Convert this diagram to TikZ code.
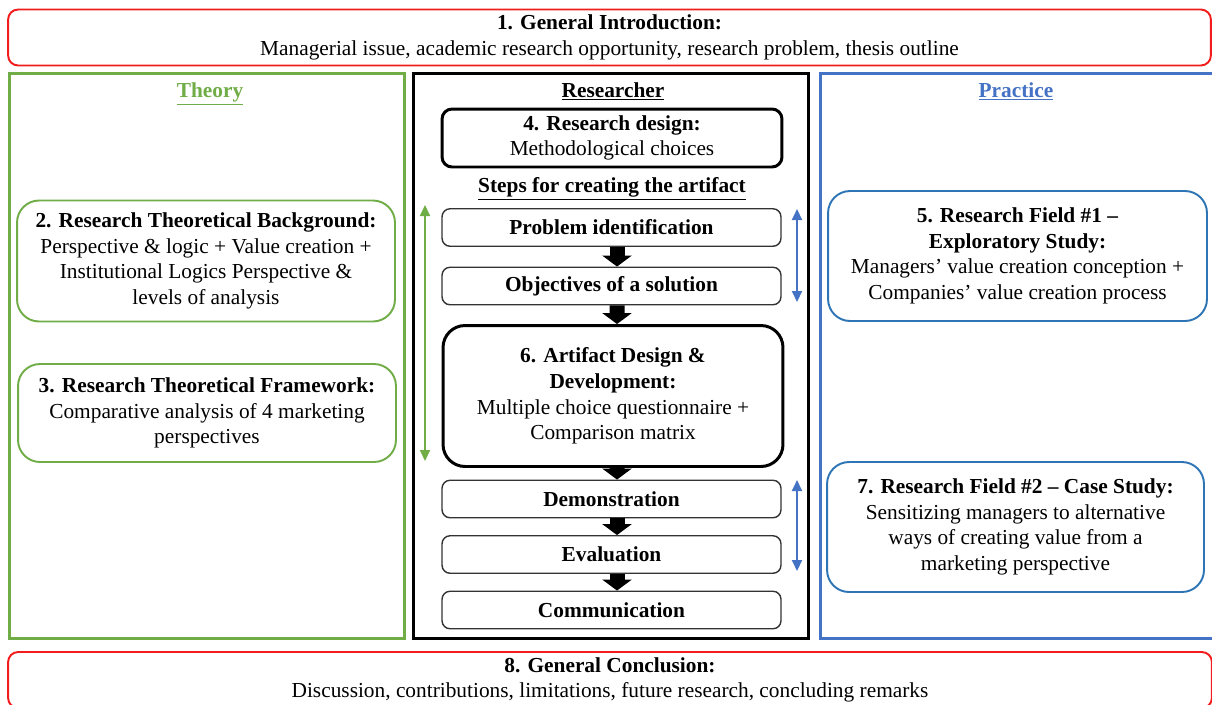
\documentclass[tikz,border=0pt]{standalone}
\usepackage{fontspec}
\setmainfont{Liberation Serif}
\usetikzlibrary{positioning}
\usetikzlibrary{arrows.meta}
\definecolor{thgreen}{HTML}{70AD47}
\definecolor{prblue}{HTML}{4472C4}
\definecolor{fdblue}{HTML}{2E75B6}
\definecolor{genred}{HTML}{F21C1C}

\begin{document}
\begin{tikzpicture}[x=0.02cm,y=-0.02cm,
  every node/.style={font=\fontsize{12.15}{14.6}\selectfont, align=center, inner sep=0pt},
  stepbox/.style={draw=black!80, line width=0.8pt, rounded corners=0.16cm, minimum width=6.78cm, minimum height=0.75cm},
  bigbox/.style={draw=black, line width=1.7pt},
  thbox/.style={draw=thgreen, line width=1.1pt, rounded corners=0.44cm, minimum width=7.56cm},
  fdbox/.style={draw=fdblue, line width=1.1pt, rounded corners=0.44cm, minimum height=2.6cm},
  genbox/.style={draw=genred, line width=1.1pt, rounded corners=0.2cm, minimum height=1.12cm},
  blockarrow/.style={line width=0.3cm, -{Triangle[width=0.58cm,length=0.22cm]}},
  both/.style={line width=1.1pt, {Triangle[width=0.2cm,length=0.22cm]}-{Triangle[width=0.2cm,length=0.22cm]}}
]
\useasboundingbox (0,0) rectangle (1212,704);

\draw[thgreen, line width=1.7pt] (9.5,73.5) rectangle (404.5,638.5);
\draw[black, line width=2pt] (413.5,73.5) rectangle (808.5,638.5);
\draw[prblue, line width=1.7pt] (820.5,73.5) rectangle (1220,638.5);

\node[genbox, minimum width=24.06cm] (intro) at (609.5,37.5) {\textbf{1. General Introduction:}\\Managerial issue, academic research opportunity, research problem, thesis outline};
\node[genbox, minimum width=24.08cm] (concl) at (610,680) {\textbf{8. General Conclusion:}\\Discussion, contributions, limitations, future research, concluding remarks};

\node[text=thgreen, anchor=base] (theory) at (210,97) {\textbf{\underline{Theory}}};
\node[anchor=base] (researcher) at (613,97) {\textbf{\underline{Researcher}}};
\node[text=prblue, anchor=base] (practice) at (1016,97) {\textbf{\underline{Practice}}};

\node[thbox, minimum height=2.42cm] (background) at (206,261) {\textbf{2. Research Theoretical Background:}\\Perspective \& logic + Value creation +\\Institutional Logics Perspective \&\\levels of analysis};
\node[thbox, minimum height=1.96cm] (framework) at (207,413) {\textbf{3. Research Theoretical Framework:}\\Comparative analysis of 4 marketing\\perspectives};

\node[bigbox, rounded corners=0.2cm, minimum width=6.8cm, minimum height=1.16cm] (design) at (612,138) {\textbf{4. Research design:}\\Methodological choices};
\node[anchor=base] (steps) at (612,192) {\textbf{\underline{Steps for creating the artifact}}};

\node[stepbox] (problem) at (611.5,227.5) {\textbf{Problem identification}};
\node[stepbox] (objectives) at (611.5,286) {\textbf{Objectives of a solution}};
\node[bigbox, rounded corners=0.44cm, minimum width=6.8cm, minimum height=2.82cm] (artifact) at (613,396) {\textbf{6. Artifact Design \&}\\\textbf{Development:}\\Multiple choice questionnaire +\\Comparison matrix};
\node[stepbox] (demo) at (611.5,499) {\textbf{Demonstration}};
\node[stepbox] (evaluation) at (611.5,554.5) {\textbf{Evaluation}};
\node[stepbox] (communication) at (611.5,610) {\textbf{Communication}};

\draw[blockarrow] ([xshift=0.11cm]problem.south) -- ([xshift=0.11cm]objectives.north);
\draw[blockarrow] ([xshift=0.11cm]objectives.south) -- ([xshift=0.08cm]artifact.north);
\draw[blockarrow] ([xshift=0.08cm]artifact.south) -- ([xshift=0.11cm]demo.north);
\draw[blockarrow] ([xshift=0.11cm]demo.south) -- ([xshift=0.11cm]evaluation.north);
\draw[blockarrow] ([xshift=0.11cm]evaluation.south) -- ([xshift=0.11cm]communication.north);

\node[fdbox, minimum width=7.58cm] (field1) at (1017.5,256) {\textbf{5. Research Field \#1 --}\\\textbf{Exploratory Study:}\\Managers’ value creation conception +\\Companies’ value creation process};
\node[fdbox, minimum width=7.54cm] (field2) at (1015.5,527) {\textbf{7. Research Field \#2 -- Case Study:}\\Sensitizing managers to alternative\\ways of creating value from a\\marketing perspective};

\coordinate (gtop) at (425,205);
\coordinate (gbot) at (425,461);
\draw[both, thgreen] (gtop) -- (gbot);

\coordinate (btop) at (797,209);
\coordinate (bmid) at (797,302);
\draw[both, prblue] (btop) -- (bmid);
\coordinate (ctop) at (797,480);
\coordinate (cbot) at (797,571);
\draw[both, prblue] (ctop) -- (cbot);

\end{tikzpicture}
\end{document}
